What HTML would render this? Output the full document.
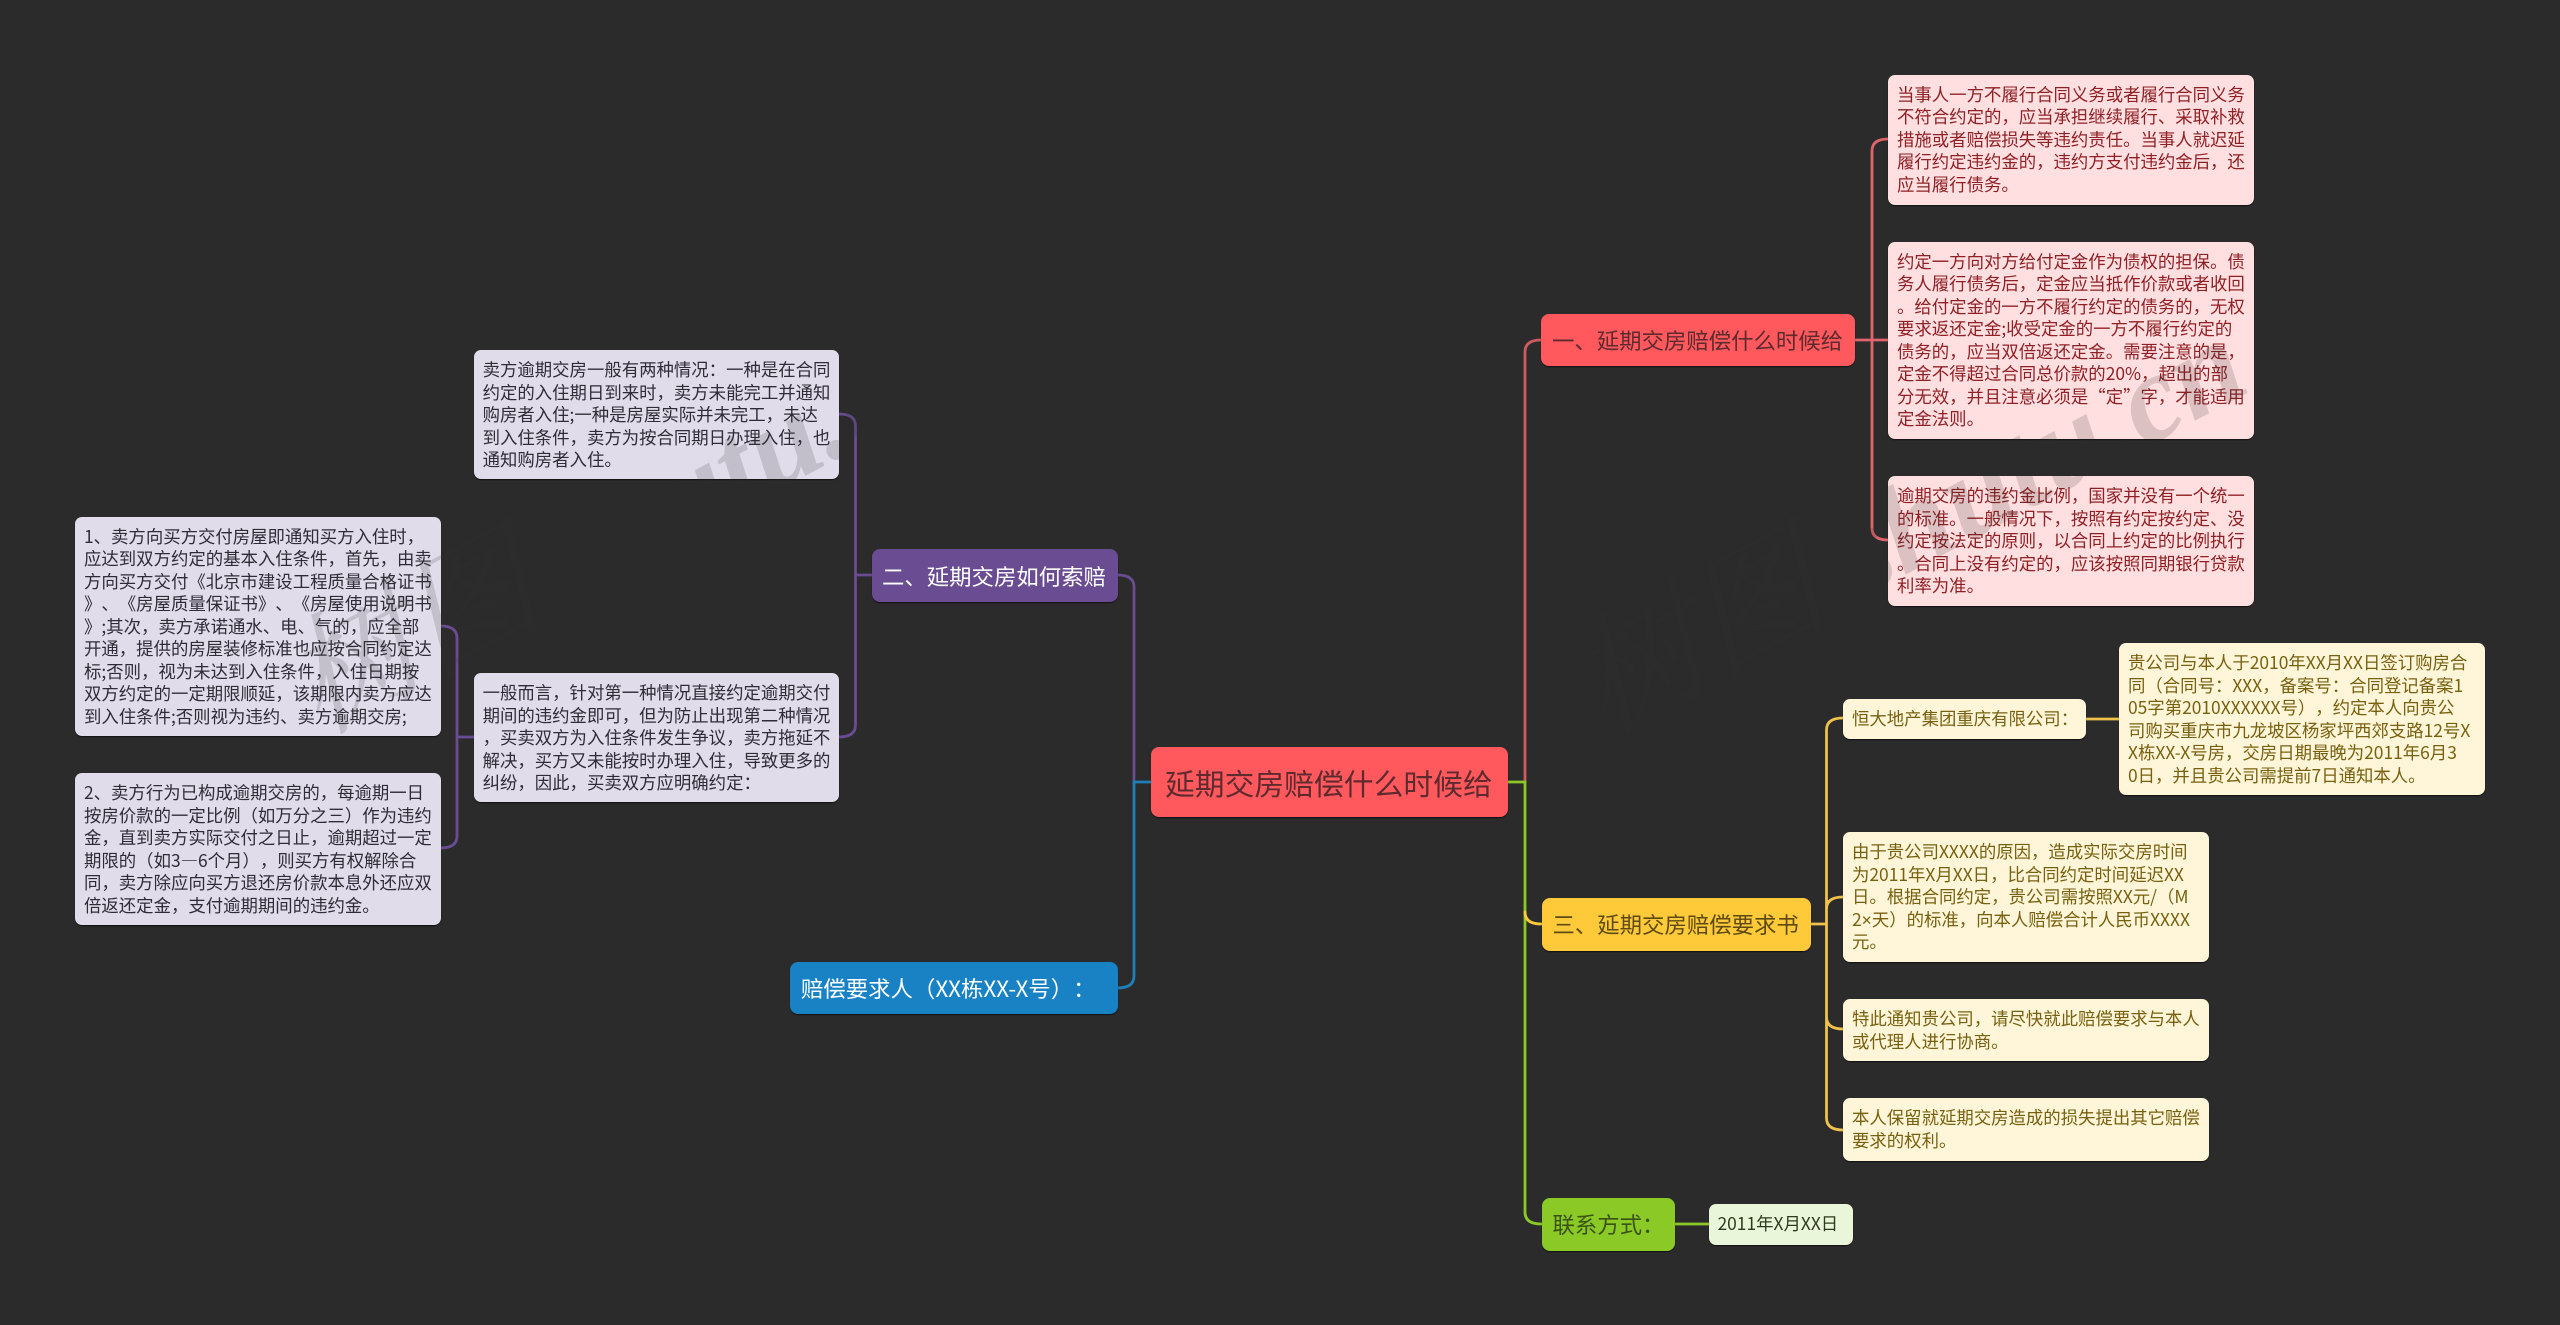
<!DOCTYPE html>
<html lang="zh"><head><meta charset="utf-8"><title>延期交房赔偿什么时候给</title>
<style>
html,body{margin:0;padding:0;background:#2b2b2b;width:2560px;height:1325px;overflow:hidden}
body{position:relative;font-family:"Liberation Sans","Noto Sans CJK SC",sans-serif;text-spacing-trim:space-all}
svg{position:absolute;left:0;top:0}
.b{position:absolute;box-sizing:border-box;border-radius:7px;white-space:nowrap;font-size:17.4px;line-height:22.55px;padding:9px 0 0 9px;box-shadow:0 1px 1px rgba(0,0,0,.6);font-family:"Noto Sans CJK SC","Liberation Sans",sans-serif;text-spacing-trim:space-all}
.r{background:#ffdfe0;color:#8f2025}
.y{background:#fff6d9;color:#77600f}
.p{background:#e1dcea;color:#2f2c36}
.g{background:#eaf6d9;color:#2f3a1a}
.m{position:absolute;box-sizing:border-box;border-radius:8px;white-space:nowrap;display:flex;align-items:center;font-size:22.4px;font-family:"Noto Sans CJK SC","Liberation Sans",sans-serif;box-shadow:0 1px 1px rgba(0,0,0,.6);text-spacing-trim:space-all}
.x{font-family:"Liberation Sans",sans-serif}
.wm{font-family:"Liberation Serif","Noto Serif CJK SC",serif;font-style:italic;font-weight:bold;font-size:124px;fill:#2f2f2f;fill-opacity:.17}
.wm .c{font-weight:normal;fill:#343434;font-size:130px}
</style></head><body>
<svg width="2560" height="1325" fill="none" stroke-width="2.8" stroke-linecap="round">
<path d="M1525 782V352Q1525 340 1541 340" stroke="#cf5a60"/>
<path d="M1508 782H1525V1212Q1525 1224 1541 1224" stroke="#8ac926"/>
<path d="M1525 912Q1525 924 1541 924" stroke="#ffca3a"/>
<path d="M1855 340H1888M1872 340V151Q1872 139 1888 139M1872 340V528Q1872 540 1888 540" stroke="#e0656a"/>
<path d="M1811 924H1826.5M1826.5 924V730Q1826.5 718 1843 718M1826.5 924V909Q1826.5 897 1843 897M1826.5 924V1017Q1826.5 1029 1843 1029M1826.5 924V1118Q1826.5 1130 1843 1130M2086 719H2119" stroke="#f0c24a"/>
<path d="M1675 1224H1708.5" stroke="#8ac926"/>
<path d="M1117.5 575Q1134 575 1134 587V782" stroke="#6a4c93"/>
<path d="M1151 782H1134V976Q1134 988 1117.5 988" stroke="#1f7fb8"/>
<path d="M872 575H855.5M855.5 575V426Q855.5 414 839 414M855.5 575V725Q855.5 737 839 737M473.6 737H457M457 737V638Q457 626 440.7 626M457 737V836Q457 848 440.7 848" stroke="#6a4c93"/>
</svg>

<div class="m" style="left:1151px;top:747px;width:357px;height:70px;background:#ff595e;color:#5f2a2e;font-size:29.8px;padding-left:14px">延期交房赔偿什么时候给</div>
<div class="m" style="left:1541px;top:314px;width:314px;height:52px;background:#ff595e;color:#5f2a2e;padding-left:11px">一、延期交房赔偿什么时候给</div>
<div class="m" style="left:872px;top:549px;width:245.5px;height:53px;background:#6a4c93;color:#fff;padding-left:10px">二、延期交房如何索赔</div>
<div class="m" style="left:790px;top:962px;width:327.5px;height:52px;background:#1982c4;color:#fff;padding-left:11px">赔偿要求人（XX栋XX-X号）：</div>
<div class="m" style="left:1541.5px;top:897.5px;width:269px;height:53px;background:#ffca3a;color:#5d4a12;padding-left:11px">三、延期交房赔偿要求书</div>
<div class="m" style="left:1541.5px;top:1198px;width:133.5px;height:52.5px;background:#8ac926;color:#3a5314;padding-left:11px">联系方式：</div>

<div class="b r" style="left:1888px;top:74.5px;width:366px;height:130px">当事人一方不履行合同义务或者履行合同义务<br>不符合约定的，应当承担继续履行、采取补救<br>措施或者赔偿损失等违约责任。当事人就迟延<br>履行约定违约金的，违约方支付违约金后，还<br>应当履行债务。</div>
<div class="b r" style="left:1888px;top:241.5px;width:366px;height:197px">约定一方向对方给付定金作为债权的担保。债<br>务人履行债务后，定金应当抵作价款或者收回<br>。给付定金的一方不履行约定的债务的，无权<br>要求返还定金;收受定金的一方不履行约定的<br>债务的，应当双倍返还定金。需要注意的是，<br>定金不得超过合同总价款的20%，超出的部<br>分无效，并且注意必须是“定”字，才能适用<br>定金法则。</div>
<div class="b r" style="left:1888px;top:476px;width:366px;height:130px">逾期交房的违约金比例，国家并没有一个统一<br>的标准。一般情况下，按照有约定按约定、没<br>约定按法定的原则，以合同上约定的比例执行<br>。合同上没有约定的，应该按照同期银行贷款<br>利率为准。</div>

<div class="b y" style="left:1843px;top:699px;width:243px;height:40px">恒大地产集团重庆有限公司：</div>
<div class="b y" style="left:2119px;top:643px;width:366px;height:152px">贵公司与本人于2010年XX月XX日签订购房合<br>同（合同号：XXX，备案号：合同登记备案1<br>05字第2010XXXXXX号），约定本人向贵公<br>司购买重庆市九龙坡区杨家坪西郊支路12号X<br>X栋XX-X号房，交房日期最晚为2011年6月3<br>0日，并且贵公司需提前7日通知本人。</div>
<div class="b y" style="left:1843px;top:832px;width:365.5px;height:130px">由于贵公司XXXX的原因，造成实际交房时间<br>为2011年X月XX日，比合同约定时间延迟XX<br>日。根据合同约定，贵公司需按照XX元/（M<br>2<span class="x">×</span>天）的标准，向本人赔偿合计人民币XXXX<br>元。</div>
<div class="b y" style="left:1843px;top:999px;width:365.5px;height:62px">特此通知贵公司，请尽快就此赔偿要求与本人<br>或代理人进行协商。</div>
<div class="b y" style="left:1843px;top:1098px;width:365.5px;height:63px">本人保留就延期交房造成的损失提出其它赔偿<br>要求的权利。</div>
<div class="b g" style="left:1708.5px;top:1204px;width:144px;height:41px">2011年X月XX日</div>

<div class="b p" style="left:473.6px;top:350px;width:365.4px;height:129px">卖方逾期交房一般有两种情况：一种是在合同<br>约定的入住期日到来时，卖方未能完工并通知<br>购房者入住;一种是房屋实际并未完工，未达<br>到入住条件，卖方为按合同期日办理入住，也<br>通知购房者入住。</div>
<div class="b p" style="left:473.6px;top:673px;width:365.4px;height:129px">一般而言，针对第一种情况直接约定逾期交付<br>期间的违约金即可，但为防止出现第二种情况<br>，买卖双方为入住条件发生争议，卖方拖延不<br>解决，买方又未能按时办理入住，导致更多的<br>纠纷，因此，买卖双方应明确约定：</div>
<div class="b p" style="left:75px;top:516.5px;width:365.7px;height:219px">1、卖方向买方交付房屋即通知买方入住时，<br>应达到双方约定的基本入住条件，首先，由卖<br>方向买方交付《北京市建设工程质量合格证书<br>》、《房屋质量保证书》、《房屋使用说明书<br>》;其次，卖方承诺通水、电、气的，应全部<br>开通，提供的房屋装修标准也应按合同约定达<br>标;否则，视为未达到入住条件，入住日期按<br>双方约定的一定期限顺延，该期限内卖方应达<br>到入住条件;否则视为违约、卖方逾期交房;</div>
<div class="b p" style="left:75px;top:773px;width:365.7px;height:152px">2、卖方行为已构成逾期交房的，每逾期一日<br>按房价款的一定比例（如万分之三）作为违约<br>金，直到卖方实际交付之日止，逾期超过一定<br>期限的（如3—6个月），则买方有权解除合<br>同，卖方除应向买方退还房价款本息外还应双<br>倍返还定金，支付逾期期间的违约金。</div>

<svg width="2560" height="1325" style="pointer-events:none">
<text class="wm" transform="translate(318 735) rotate(-28)"><tspan class="c">树图</tspan> shutu.cn</text>
<text class="wm" transform="translate(1604 735) rotate(-28)"><tspan class="c">树图</tspan> shutu.cn</text>
</svg>
</body></html>
